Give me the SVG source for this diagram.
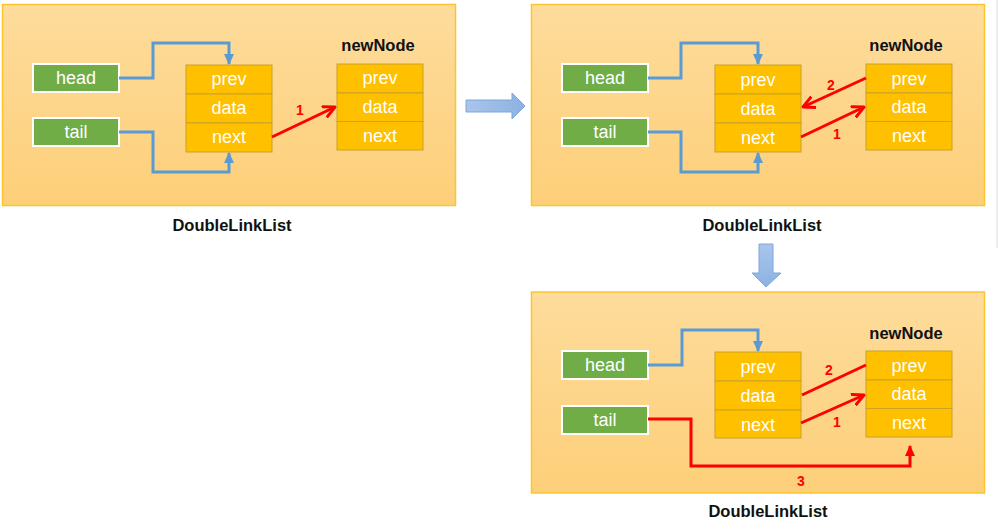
<svg xmlns="http://www.w3.org/2000/svg" width="998" height="522" viewBox="0 0 998 522">
<defs>
<linearGradient id="pg" x1="0" y1="0" x2="0" y2="1">
<stop offset="0" stop-color="#fedc9c"/>
<stop offset="1" stop-color="#fdcf79"/>
</linearGradient>
<linearGradient id="bg" x1="0" y1="0" x2="0" y2="1">
<stop offset="0" stop-color="#a9c5ec"/>
<stop offset="1" stop-color="#8cb2e2"/>
</linearGradient>
<linearGradient id="bgh" x1="0" y1="0" x2="1" y2="0">
<stop offset="0" stop-color="#a9c5ec"/>
<stop offset="1" stop-color="#8cb2e2"/>
</linearGradient>
<marker id="ab" viewBox="0 0 10 10" refX="9" refY="5" markerWidth="11" markerHeight="11" markerUnits="userSpaceOnUse" orient="auto">
<path d="M0,0.5 L10,5 L0,9.5 Z" fill="#5b9bd5"/>
</marker>
<marker id="ar" viewBox="0 0 14 14" refX="12" refY="7" markerWidth="14" markerHeight="14" markerUnits="userSpaceOnUse" orient="auto">
<path d="M1,1.5 L12,7 L1,12.5" fill="none" stroke="#ff0000" stroke-width="3" stroke-linecap="round" stroke-linejoin="round"/>
</marker>
<marker id="arf" viewBox="0 0 10 10" refX="9" refY="5" markerWidth="11" markerHeight="11" markerUnits="userSpaceOnUse" orient="auto">
<path d="M0,0.5 L10,5 L0,9.5 Z" fill="#ff0000"/>
</marker>
</defs>
<style>
.panel{fill:url(#pg);stroke:#fcc52e;stroke-width:1.5}
.ptr{fill:#70ad47;stroke:#ffffff;stroke-width:2}
.cell{fill:#ffc000;stroke:#c9a227;stroke-width:1}
.wt{font-family:"Liberation Sans",Arial,sans-serif;font-size:18px;fill:#ffffff;text-anchor:middle}
.title{font-family:"Liberation Sans",Arial,sans-serif;font-size:16.5px;font-weight:bold;fill:#111111;text-anchor:middle}
.blue{fill:none;stroke:#5b9bd5;stroke-width:3;marker-end:url(#ab)}
.red{fill:none;stroke:#ff0000;stroke-width:3;marker-end:url(#ar)}
.redp{fill:none;stroke:#ff0000;stroke-width:3}
.rl{font-family:"Liberation Sans",Arial,sans-serif;font-size:14px;font-weight:bold;fill:#ff0000;text-anchor:middle}
</style>
<rect x="996" y="0" width="2" height="248" fill="#ededed"/>

<!-- Panel 1 -->
<g id="panel1">
<rect class="panel" x="2.5" y="4.5" width="453" height="201"/>
</g>
<g id="p1-head"><rect class="ptr" x="33" y="64" width="86" height="28"/><text class="wt" x="76" y="84">head</text></g>
<g id="p1-tail"><rect class="ptr" x="33" y="118" width="86" height="28"/><text class="wt" x="76" y="138">tail</text></g>
<g id="p1-node">
<rect class="cell" x="186" y="65" width="86" height="29"/>
<rect class="cell" x="186" y="94" width="86" height="29"/>
<rect class="cell" x="186" y="123" width="86" height="29"/>
<text class="wt" x="229" y="85">prev</text><text class="wt" x="229" y="114">data</text><text class="wt" x="229" y="143">next</text>
</g>
<g id="p1-newNode">
<text class="title" x="378" y="51">newNode</text>
<rect class="cell" x="337" y="64" width="86" height="29"/>
<rect class="cell" x="337" y="93" width="86" height="28.5"/>
<rect class="cell" x="337" y="121.5" width="86" height="28.5"/>
<text class="wt" x="380" y="84">prev</text><text class="wt" x="380" y="113">data</text><text class="wt" x="380" y="142">next</text>
</g>
<g id="p1-label"><text class="title" x="232" y="231">DoubleLinkList</text></g>
<g id="p1-connectors">
<path class="blue" d="M119,78 H153 V43 H229 V64"/>
<path class="blue" d="M119,132 H153 V172 H229 V153"/>
<path class="red" d="M272,137 L335,107"/>
<text class="rl" x="300" y="115">1</text>
</g>

<!-- transition arrows -->
<g id="arrow-right">
<path d="M466,100 H512 V93 L525,106 L512,119 V112 H466 Z" fill="url(#bgh)" stroke="#7ea6dc" stroke-width="1"/>
</g>
<g id="arrow-down">
<path d="M759,244 H773 V273 H781 L766,287 L752,273 H759 Z" fill="url(#bg)" stroke="#7ea6dc" stroke-width="1"/>
</g>

<!-- Panel 2 -->
<g id="panel2">
<rect class="panel" x="531.5" y="4.5" width="453" height="201"/>
</g>
<g id="p2-head"><rect class="ptr" x="562" y="64" width="86" height="28"/><text class="wt" x="605" y="84">head</text></g>
<g id="p2-tail"><rect class="ptr" x="562" y="118" width="86" height="28"/><text class="wt" x="605" y="138">tail</text></g>
<g id="p2-node">
<rect class="cell" x="715" y="65" width="86" height="29"/>
<rect class="cell" x="715" y="94" width="86" height="29"/>
<rect class="cell" x="715" y="123" width="86" height="29"/>
<text class="wt" x="758" y="86">prev</text><text class="wt" x="758" y="115">data</text><text class="wt" x="758" y="144">next</text>
</g>
<g id="p2-newNode">
<text class="title" x="906" y="51">newNode</text>
<rect class="cell" x="866" y="64" width="86" height="29"/>
<rect class="cell" x="866" y="93" width="86" height="28.5"/>
<rect class="cell" x="866" y="121.5" width="86" height="28.5"/>
<text class="wt" x="909" y="85">prev</text><text class="wt" x="909" y="113">data</text><text class="wt" x="909" y="142">next</text>
</g>
<g id="p2-label"><text class="title" x="762" y="231">DoubleLinkList</text></g>
<g id="p2-connectors">
<path class="blue" d="M648,78 H681 V43 H758 V64"/>
<path class="blue" d="M648,132 H681 V172 H758 V153"/>
<path class="red" d="M801,137 L864,107"/>
<path class="red" d="M866,78 L803,107"/>
<text class="rl" x="831" y="90">2</text>
<text class="rl" x="837" y="139">1</text>
</g>

<!-- Panel 3 -->
<g id="panel3">
<rect class="panel" x="531.5" y="292" width="453" height="201"/>
</g>
<g id="p3-head"><rect class="ptr" x="562" y="351" width="86" height="28"/><text class="wt" x="605" y="371">head</text></g>
<g id="p3-tail"><rect class="ptr" x="562" y="406" width="86" height="28"/><text class="wt" x="605" y="426">tail</text></g>
<g id="p3-node">
<rect class="cell" x="715" y="352" width="86" height="29"/>
<rect class="cell" x="715" y="381" width="86" height="29"/>
<rect class="cell" x="715" y="410" width="86" height="28"/>
<text class="wt" x="758" y="373">prev</text><text class="wt" x="758" y="402">data</text><text class="wt" x="758" y="431">next</text>
</g>
<g id="p3-newNode">
<text class="title" x="906" y="339">newNode</text>
<rect class="cell" x="866" y="351" width="86" height="29"/>
<rect class="cell" x="866" y="380" width="86" height="28.5"/>
<rect class="cell" x="866" y="408.5" width="86" height="28.5"/>
<text class="wt" x="909" y="372">prev</text><text class="wt" x="909" y="400">data</text><text class="wt" x="909" y="429">next</text>
</g>
<g id="p3-label"><text class="title" x="768" y="517">DoubleLinkList</text></g>
<g id="p3-connectors">
<path class="blue" d="M648,365 H682 V330 H758 V351"/>
<path class="redp" d="M866,365 L802,395"/>
<path class="red" d="M801,423 L864,395"/>
<path class="redp" d="M648,419 H691 V466 H910 V446" marker-end="url(#arf)"/>
<text class="rl" x="829" y="375">2</text>
<text class="rl" x="837" y="427">1</text>
<text class="rl" x="801" y="486">3</text>
</g>
</svg>
